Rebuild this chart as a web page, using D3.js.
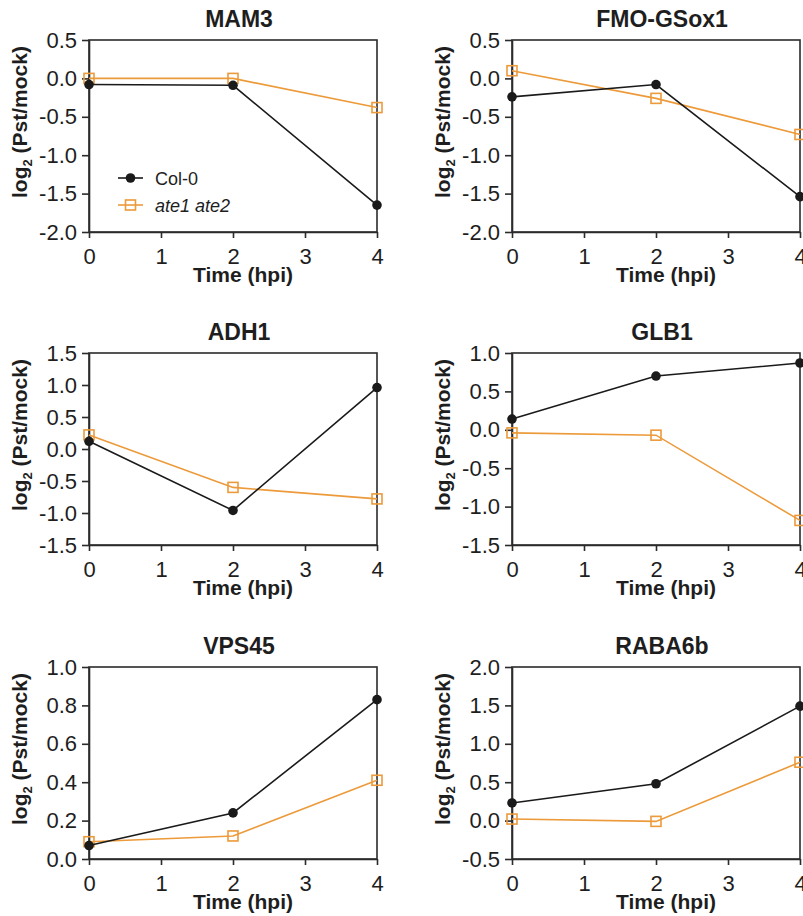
<!DOCTYPE html>
<html lang="en">
<head>
  <meta charset="UTF-8" />
  <title>log2 (Pst/mock) time courses</title>
  <script src="https://d3js.org/d3.v7.min.js"></script>
  <style>
    body { margin: 0; background: #fff; }
    svg { display: block; font-family: "Liberation Sans", Arial, sans-serif; }
    .axis path, .axis line { stroke: #2b2b2b; stroke-width: 1.6; }
    .title { font-size: 23px; font-weight: bold; fill: #1e1e1e; }
    .axis-title { font-size: 21px; font-weight: bold; fill: #1e1e1e; }
    .legend text { font-size: 18px; fill: #1e1e1e; }
  </style>
</head>
<body>
  <svg id="chart" width="803" height="916"></svg>

  <script>
  // values
  const genes = ["MAM3", "FMO-GSox1", "ADH1", "GLB1", "VPS45", "RABA6b"];
  const timePoints = [0, 2, 4];
  const col0 = [
    [-0.08, -0.09, -1.65],
    [-0.24, -0.08, -1.54],
    [0.12, -0.96, 0.96],
    [0.14, 0.70, 0.87],
    [0.07, 0.24, 0.83],
    [0.23, 0.48, 1.49]
  ];
  const ate = [
    [0.00, 0.00, -0.38],
    [0.10, -0.26, -0.73],
    [0.22, -0.60, -0.78],
    [-0.04, -0.07, -1.18],
    [0.09, 0.12, 0.41],
    [0.02, -0.01, 0.76]
  ];
  const yTicks = [
    [-2.0, -1.5, -1.0, -0.5, 0.0, 0.5],
    [-2.0, -1.5, -1.0, -0.5, 0.0, 0.5],
    [-1.5, -1.0, -0.5, 0.0, 0.5, 1.0, 1.5],
    [-1.5, -1.0, -0.5, 0.0, 0.5, 1.0],
    [0.0, 0.2, 0.4, 0.6, 0.8, 1.0],
    [-0.5, 0.0, 0.5, 1.0, 1.5, 2.0]
  ];
  const xTicks = [0, 1, 2, 3, 4];
  const seriesNames = ["Col-0", "ate1 ate2"];

  const svg = d3.select("#chart");
  const colLeft = [89, 512], rowTop = [40, 353, 667];
  const w = 288, h = 192;
  const black = "#1a1a1a", orange = "#ec9a3a";

  genes.forEach((gene, i) => {
    const ox = colLeft[i % 2], oy = rowTop[Math.floor(i / 2)];
    const g = svg.append("g").attr("transform", `translate(${ox},${oy})`);
    const x = d3.scaleLinear().domain([0, 4]).range([0, w]);
    const yt = yTicks[i];
    const y = d3.scaleLinear().domain([yt[0], yt[yt.length - 1]]).range([h, 0]);

    // frame
    g.append("rect").attr("width", w).attr("height", h)
      .attr("fill", "none").attr("stroke", "#2b2b2b").attr("stroke-width", 1.6);

    g.append("g").attr("class", "axis")
      .attr("transform", `translate(0,${h})`)
      .call(d3.axisBottom(x).tickValues(xTicks).tickFormat(d3.format("d"))
        .tickSize(6).tickPadding(10).tickSizeOuter(0))
      .attr("font-size", 22).attr("font-family", null);

    g.append("g").attr("class", "axis")
      .call(d3.axisLeft(y).tickValues(yt).tickFormat(d => d.toFixed(1))
        .tickSize(7).tickPadding(5).tickSizeOuter(0))
      .attr("font-size", 22).attr("font-family", null);

    g.selectAll(".axis .tick text").attr("fill", "#1e1e1e");

    g.append("text").attr("class", "title")
      .attr("x", w / 2 + 6).attr("y", -13)
      .attr("text-anchor", "middle").text(gene);

    g.append("text").attr("class", "axis-title")
      .attr("x", w / 2 + 10).attr("y", h + 50)
      .attr("text-anchor", "middle").text("Time (hpi)");

    const yl = g.append("text").attr("class", "axis-title")
      .attr("transform", `translate(-62,${h / 2 - 14}) rotate(-90)`)
      .attr("text-anchor", "middle");
    yl.append("tspan").text("log");
    yl.append("tspan").attr("font-size", 13).attr("dy", 5).text("2");
    yl.append("tspan").attr("dy", -5).text(" (Pst/mock)");

    const line = d3.line().x((d, j) => x(timePoints[j])).y(d => y(d));

    // ate1 ate2 under Col-0
    g.append("path").datum(ate[i]).attr("d", line)
      .attr("fill", "none").attr("stroke", orange).attr("stroke-width", 1.6);
    g.selectAll(".sq").data(ate[i]).join("rect").attr("class", "sq")
      .attr("x", (d, j) => x(timePoints[j]) - 5).attr("y", d => y(d) - 5)
      .attr("width", 10).attr("height", 10)
      .attr("fill", "none").attr("stroke", orange).attr("stroke-width", 1.6);

    g.append("path").datum(col0[i]).attr("d", line)
      .attr("fill", "none").attr("stroke", black).attr("stroke-width", 1.6);
    g.selectAll(".dot").data(col0[i]).join("circle").attr("class", "dot")
      .attr("cx", (d, j) => x(timePoints[j])).attr("cy", d => y(d))
      .attr("r", 4.8).attr("fill", black);

    if (i === 0) {
      const leg = g.append("g").attr("class", "legend").attr("transform", "translate(29,138)");
      leg.append("line").attr("x1", 0).attr("x2", 25).attr("y1", 0).attr("y2", 0)
        .attr("stroke", black).attr("stroke-width", 1.6);
      leg.append("circle").attr("cx", 12.5).attr("cy", 0).attr("r", 4.8).attr("fill", black);
      leg.append("text").attr("x", 37).attr("y", 6.5).text(seriesNames[0]);
      leg.append("line").attr("x1", 0).attr("x2", 25).attr("y1", 27).attr("y2", 27)
        .attr("stroke", orange).attr("stroke-width", 1.6);
      leg.append("rect").attr("x", 7.5).attr("y", 22).attr("width", 10).attr("height", 10)
        .attr("fill", "none").attr("stroke", orange).attr("stroke-width", 1.6);
      leg.append("text").attr("x", 37).attr("y", 33.5)
        .attr("font-style", "italic").text(seriesNames[1]);
    }
  });
  </script>
</body>
</html>
